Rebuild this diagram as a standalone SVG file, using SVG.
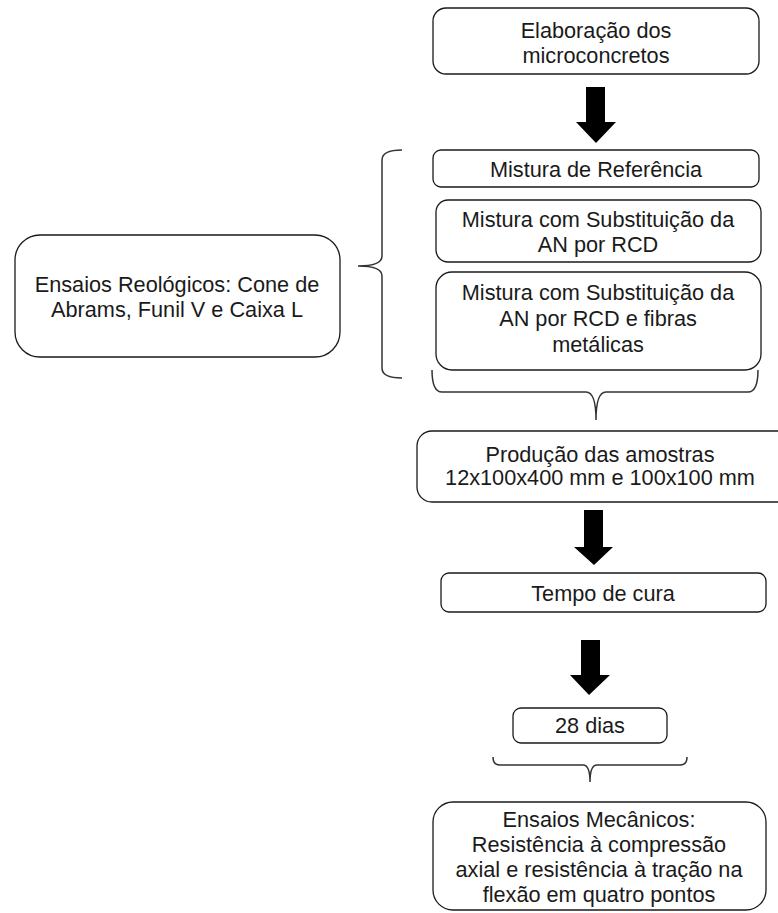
<svg xmlns="http://www.w3.org/2000/svg" width="778" height="913" viewBox="0 0 778 913">
<style>
.box{fill:#fff;stroke:#1a1a1a;stroke-width:1.3}
.t{font-family:"Liberation Sans",Arial,sans-serif;font-size:21.7px;fill:#1a1a1a;text-anchor:middle}
.br{fill:none;stroke:#333;stroke-width:1.5}
.ar{fill:#000}
</style>
<rect width="778" height="913" fill="#fff"/>
<g id="n1"><rect class="box" x="433" y="8" width="326" height="66" rx="13"/><text class="t" x="596" y="38">Elaboração dos</text><text class="t" x="596" y="63">microconcretos</text></g>
<g id="n2"><rect class="box" x="433" y="150" width="326" height="37" rx="8"/><text class="t" x="596" y="177">Mistura de Referência</text></g>
<g id="n3"><rect class="box" x="436" y="200" width="325" height="62" rx="12"/><text class="t" x="598" y="227">Mistura com Substituição da</text><text class="t" x="598" y="252">AN por RCD</text></g>
<g id="n4"><rect class="box" x="436" y="272" width="325" height="98" rx="16"/><text class="t" x="598" y="300">Mistura com Substituição da</text><text class="t" x="598" y="326">AN por RCD e fibras</text><text class="t" x="598" y="352">metálicas</text></g>
<g id="n5"><rect class="box" x="15" y="235" width="325" height="122" rx="25"/><text class="t" x="177" y="292">Ensaios Reológicos: Cone de</text><text class="t" x="177" y="317">Abrams, Funil V e Caixa L</text></g>
<g id="n6"><rect class="box" x="417" y="431" width="380" height="71" rx="15"/><text class="t" x="600" y="462">Produção das amostras</text><text class="t" x="600" y="485">12x100x400 mm e 100x100 mm</text></g>
<g id="n7"><rect class="box" x="441" y="573" width="325" height="39" rx="8"/><text class="t" x="603" y="601">Tempo de cura</text></g>
<g id="n8"><rect class="box" x="513" y="708" width="154" height="35" rx="8"/><text class="t" x="590" y="733">28 dias</text></g>
<g id="n9"><rect class="box" x="433" y="802" width="333" height="108" rx="20"/><text class="t" x="599" y="827">Ensaios Mecânicos:</text><text class="t" x="599" y="852">Resistência à compressão</text><text class="t" x="599" y="877">axial e resistência à tração na</text><text class="t" x="599" y="902">flexão em quatro pontos</text></g>
<g id="connectors">
<path class="ar" d="M586,87 H605 V122 H616 L596,143 L576,122 H586 Z"/>
<path class="ar" d="M584,510 H603 V547 H613 L594,565 L574,547 H584 Z"/>
<path class="ar" d="M581,640 H600 V675 H610 L589,695 L570,675 H581 Z"/>
<path class="br" d="M402,150 Q382,150 382,160 V256 Q382,266 358,266 Q382,266 382,276 V368 Q382,378 402,378"/>
<path class="br" d="M432,370 Q432,392 442,392 H586 Q596,392 596,420 Q596,392 606,392 H748 Q758,392 758,370"/>
<path class="br" d="M493,757 Q493,765 500,765 H583 Q590,765 590,782 Q590,765 597,765 H680 Q687,765 687,757"/>
</g>
</svg>
